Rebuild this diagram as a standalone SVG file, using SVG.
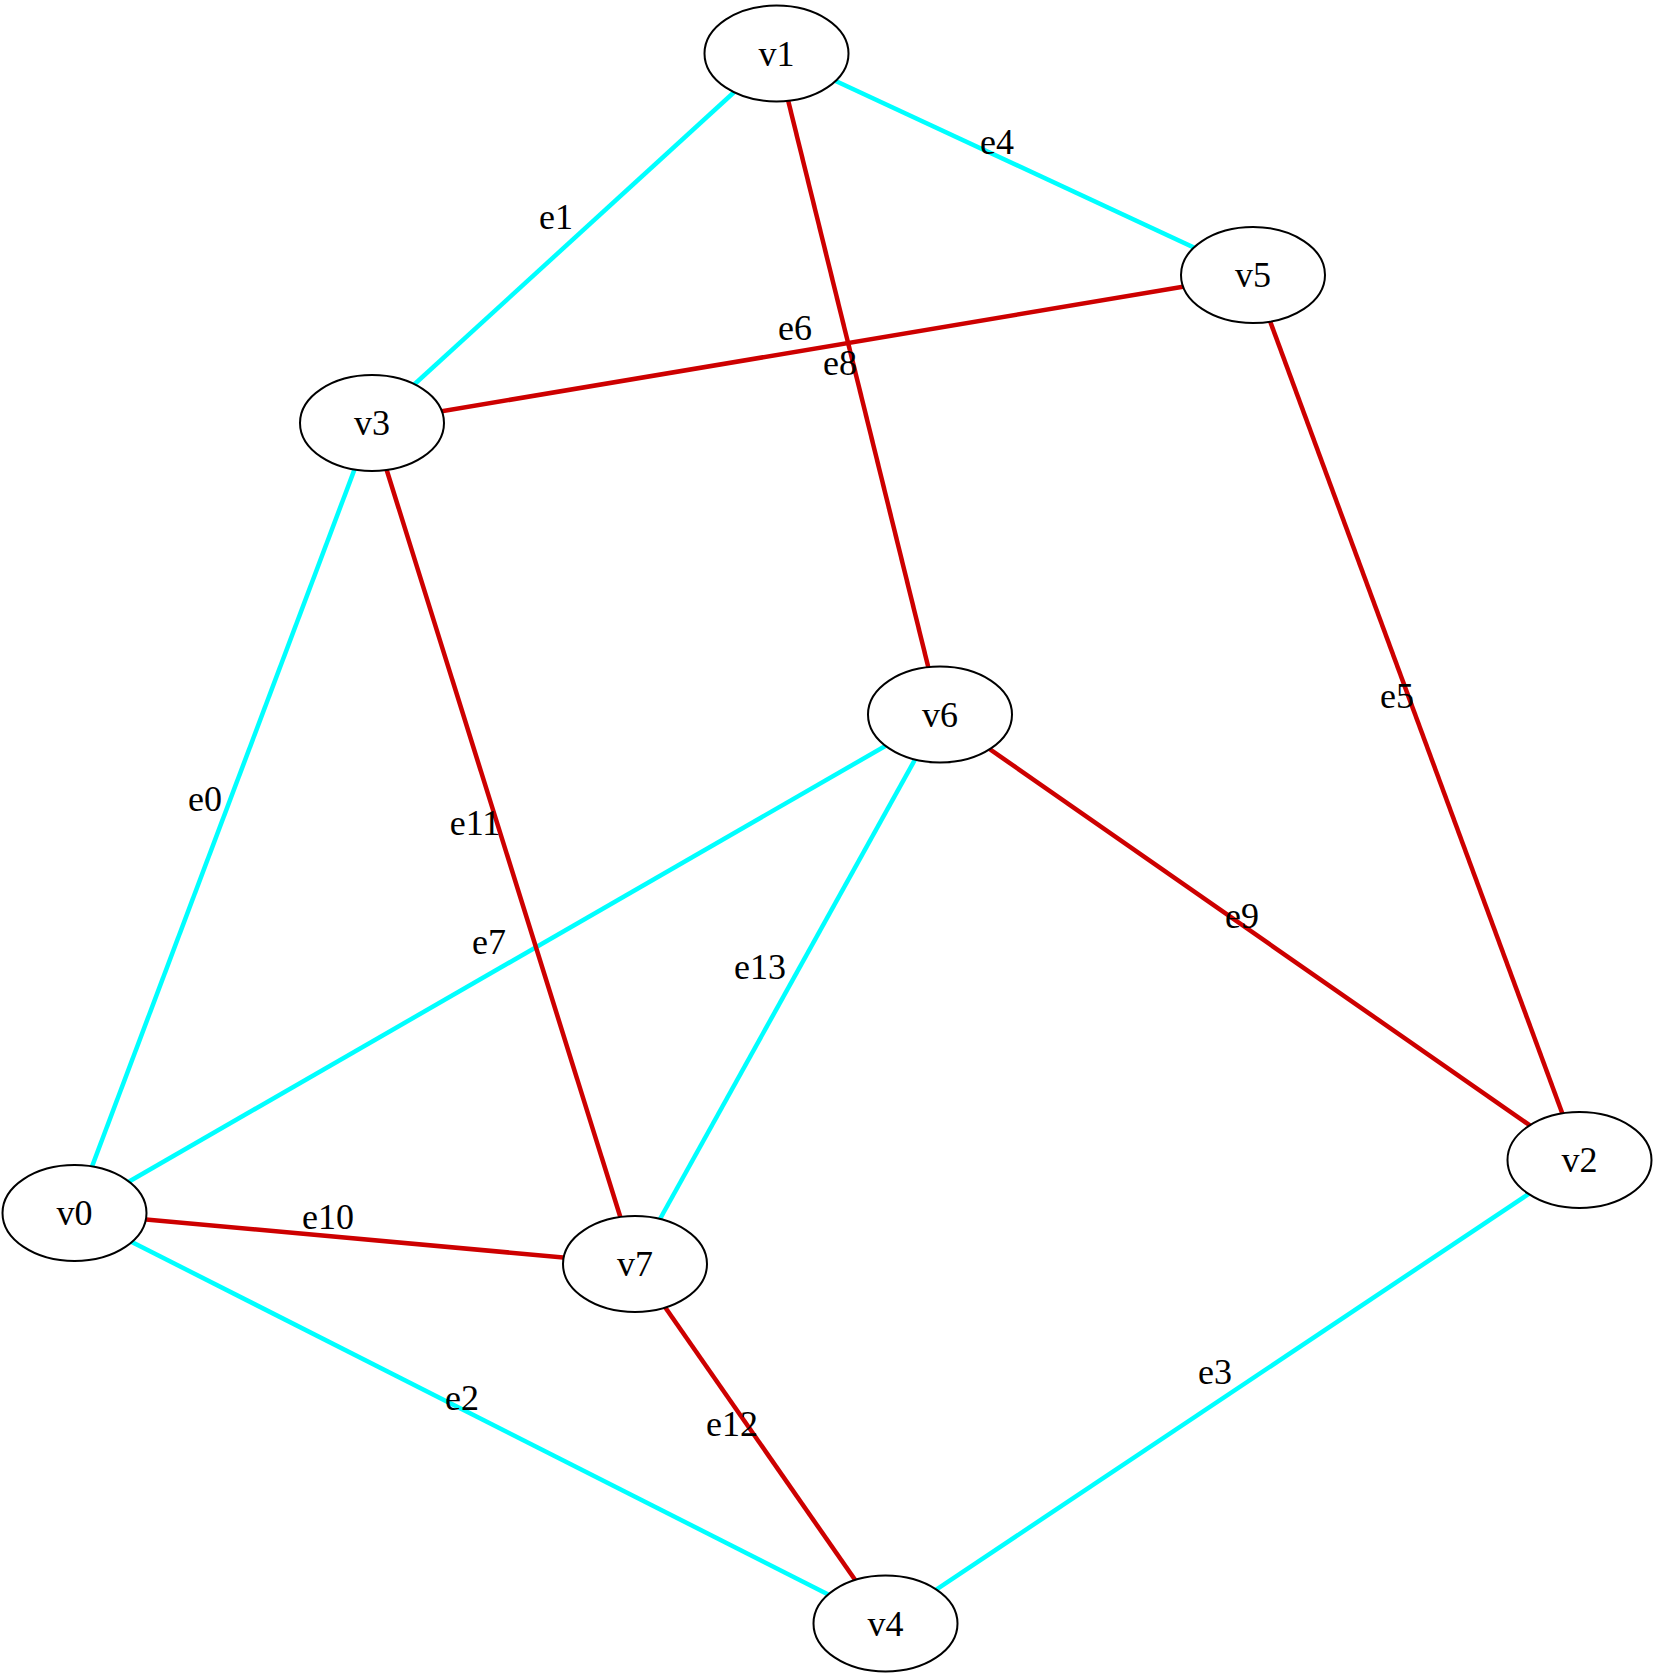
<svg xmlns="http://www.w3.org/2000/svg" width="1654" height="1676" viewBox="0 0 1654 1676">
<style>
.node ellipse{fill:#ffffff;stroke:#000000;stroke-width:2}
.node text{font-family:"Liberation Serif","Times New Roman",serif;font-size:36px;text-anchor:middle;fill:#000000}
.edge line{stroke-width:4.5;fill:none}
.c{stroke:#00ffff}
.r{stroke:#cd0000}
.lbl{font-family:"Liberation Serif","Times New Roman",serif;font-size:36px;text-anchor:middle;fill:#000000}
</style>
<rect width="1654" height="1676" fill="#ffffff"/>
<g id="edges">
<g class="edge" id="e0"><line class="c" x1="372" y1="423" x2="74.5" y2="1213"/></g>
<g class="edge" id="e1"><line class="c" x1="776.5" y1="53.5" x2="372" y2="423"/></g>
<g class="edge" id="e2"><line class="c" x1="74.5" y1="1213" x2="885.5" y2="1623.5"/></g>
<g class="edge" id="e3"><line class="c" x1="1579.5" y1="1160" x2="885.5" y2="1623.5"/></g>
<g class="edge" id="e4"><line class="c" x1="776.5" y1="53.5" x2="1253" y2="275"/></g>
<g class="edge" id="e5"><line class="r" x1="1253" y1="275" x2="1579.5" y2="1160"/></g>
<g class="edge" id="e6"><line class="r" x1="372" y1="423" x2="1253" y2="275"/></g>
<g class="edge" id="e7"><line class="c" x1="940" y1="714.5" x2="74.5" y2="1213"/></g>
<g class="edge" id="e8"><line class="r" x1="776.5" y1="53.5" x2="940" y2="714.5"/></g>
<g class="edge" id="e9"><line class="r" x1="940" y1="714.5" x2="1579.5" y2="1160"/></g>
<g class="edge" id="e10"><line class="r" x1="74.5" y1="1213" x2="635" y2="1264"/></g>
<g class="edge" id="e11"><line class="r" x1="372" y1="423" x2="635" y2="1264"/></g>
<g class="edge" id="e12"><line class="r" x1="635" y1="1264" x2="885.5" y2="1623.5"/></g>
<g class="edge" id="e13"><line class="c" x1="940" y1="714.5" x2="635" y2="1264"/></g>
</g>
<g id="edge-labels">
<text class="lbl" x="205" y="811">e0</text>
<text class="lbl" x="556" y="229">e1</text>
<text class="lbl" x="462" y="1410">e2</text>
<text class="lbl" x="1215" y="1384">e3</text>
<text class="lbl" x="997" y="154">e4</text>
<text class="lbl" x="1397" y="708">e5</text>
<text class="lbl" x="795" y="340">e6</text>
<text class="lbl" x="489" y="954">e7</text>
<text class="lbl" x="840" y="375">e8</text>
<text class="lbl" x="1242" y="928">e9</text>
<text class="lbl" x="328" y="1229">e10</text>
<text class="lbl" x="475" y="835">e11</text>
<text class="lbl" x="732" y="1436">e12</text>
<text class="lbl" x="760" y="979">e13</text>
</g>
<g class="node" id="v0"><ellipse cx="74.5" cy="1213" rx="72" ry="48"/><text x="74.5" y="1225">v0</text></g>
<g class="node" id="v1"><ellipse cx="776.5" cy="53.5" rx="72" ry="48"/><text x="776.5" y="65.5">v1</text></g>
<g class="node" id="v2"><ellipse cx="1579.5" cy="1160" rx="72" ry="48"/><text x="1579.5" y="1172">v2</text></g>
<g class="node" id="v3"><ellipse cx="372" cy="423" rx="72" ry="48"/><text x="372" y="435">v3</text></g>
<g class="node" id="v4"><ellipse cx="885.5" cy="1623.5" rx="72" ry="48"/><text x="885.5" y="1635.5">v4</text></g>
<g class="node" id="v5"><ellipse cx="1253" cy="275" rx="72" ry="48"/><text x="1253" y="287">v5</text></g>
<g class="node" id="v6"><ellipse cx="940" cy="714.5" rx="72" ry="48"/><text x="940" y="726.5">v6</text></g>
<g class="node" id="v7"><ellipse cx="635" cy="1264" rx="72" ry="48"/><text x="635" y="1276">v7</text></g>
</svg>
